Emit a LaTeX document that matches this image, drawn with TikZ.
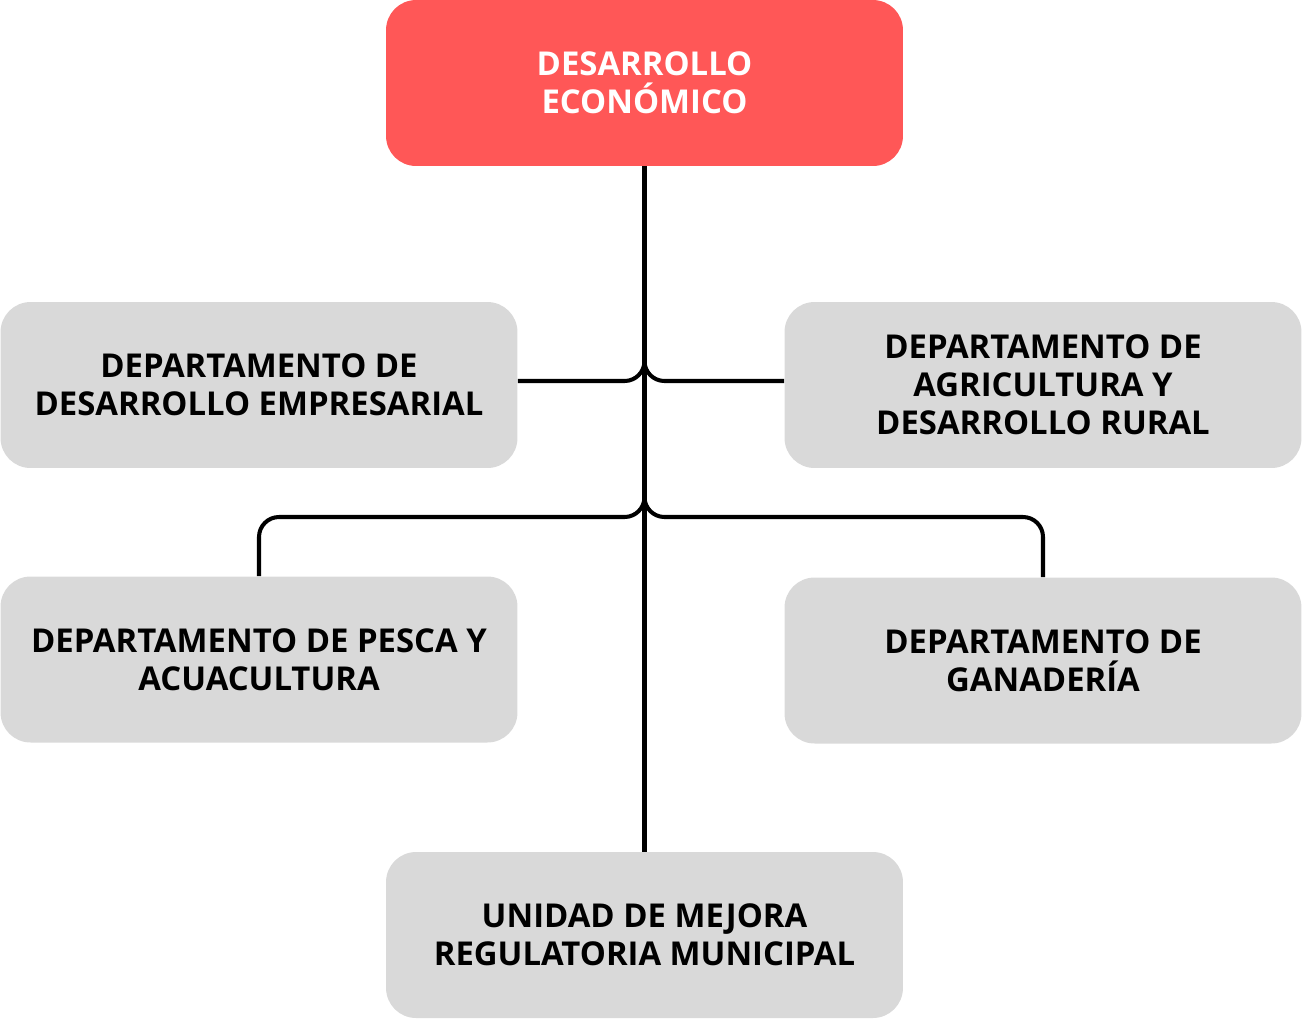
\documentclass[tikz,border=0pt]{standalone}
\usepackage{fontspec}
\setmainfont{Open Sans}
\usepackage{xcolor}
\usetikzlibrary{calc}
\definecolor{headred}{HTML}{FF5757}
\definecolor{boxgray}{HTML}{D9D9D9}
\begin{document}
\begin{tikzpicture}[
    x=0.02cm, y=-0.02cm,
    box/.style={fill=boxgray, rounded corners=0.6cm, minimum width=10.34cm, minimum height=3.32cm, align=center, inner sep=0pt,
        font=\fontsize{18.7}{21.6}\selectfont\bfseries},
    head/.style={box, fill=headred, text=white},
    conn/.style={line width=2.3pt, rounded corners=0.4cm},
]
    \useasboundingbox (0,0) rectangle (1302,1019);

    % Head
    \node[head] (econ) at (644.5,83) {DESARROLLO\\ECONÓMICO};

    % Departments
    \node[box] (empresa) at (259,385) {DEPARTAMENTO DE\\DESARROLLO EMPRESARIAL};
    \node[box] (agri) at (1043,385) {DEPARTAMENTO DE\\AGRICULTURA Y\\DESARROLLO RURAL};
    \node[box] (pesca) at (259,659.5) {DEPARTAMENTO DE PESCA Y\\ACUACULTURA};
    \node[box] (ganado) at (1043,660.5) {DEPARTAMENTO DE\\GANADERÍA};

    % Unit
    \node[box] (mejora) at (644.5,935) {UNIDAD DE MEJORA\\REGULATORIA MUNICIPAL};

    % Junctions on the trunk
    \coordinate (jup) at (644.5,361);
    \coordinate (jlow) at (644.5,497);

    % Connectors
    \draw[line width=2.3pt] (econ.south) -- (mejora.north);
    \draw[conn] (empresa.east |- 0,381) -- ($(jup)+(0,20)$) -- (jup);
    \draw[conn] (jup) -- ($(jup)+(0,20)$) -- (agri.west |- 0,381);
    \draw[conn] (pesca.north) |- ($(jlow)+(0,20)$) -- (jlow);
    \draw[conn] (jlow) -- ($(jlow)+(0,20)$) -| (ganado.north);
\end{tikzpicture}
\end{document}
